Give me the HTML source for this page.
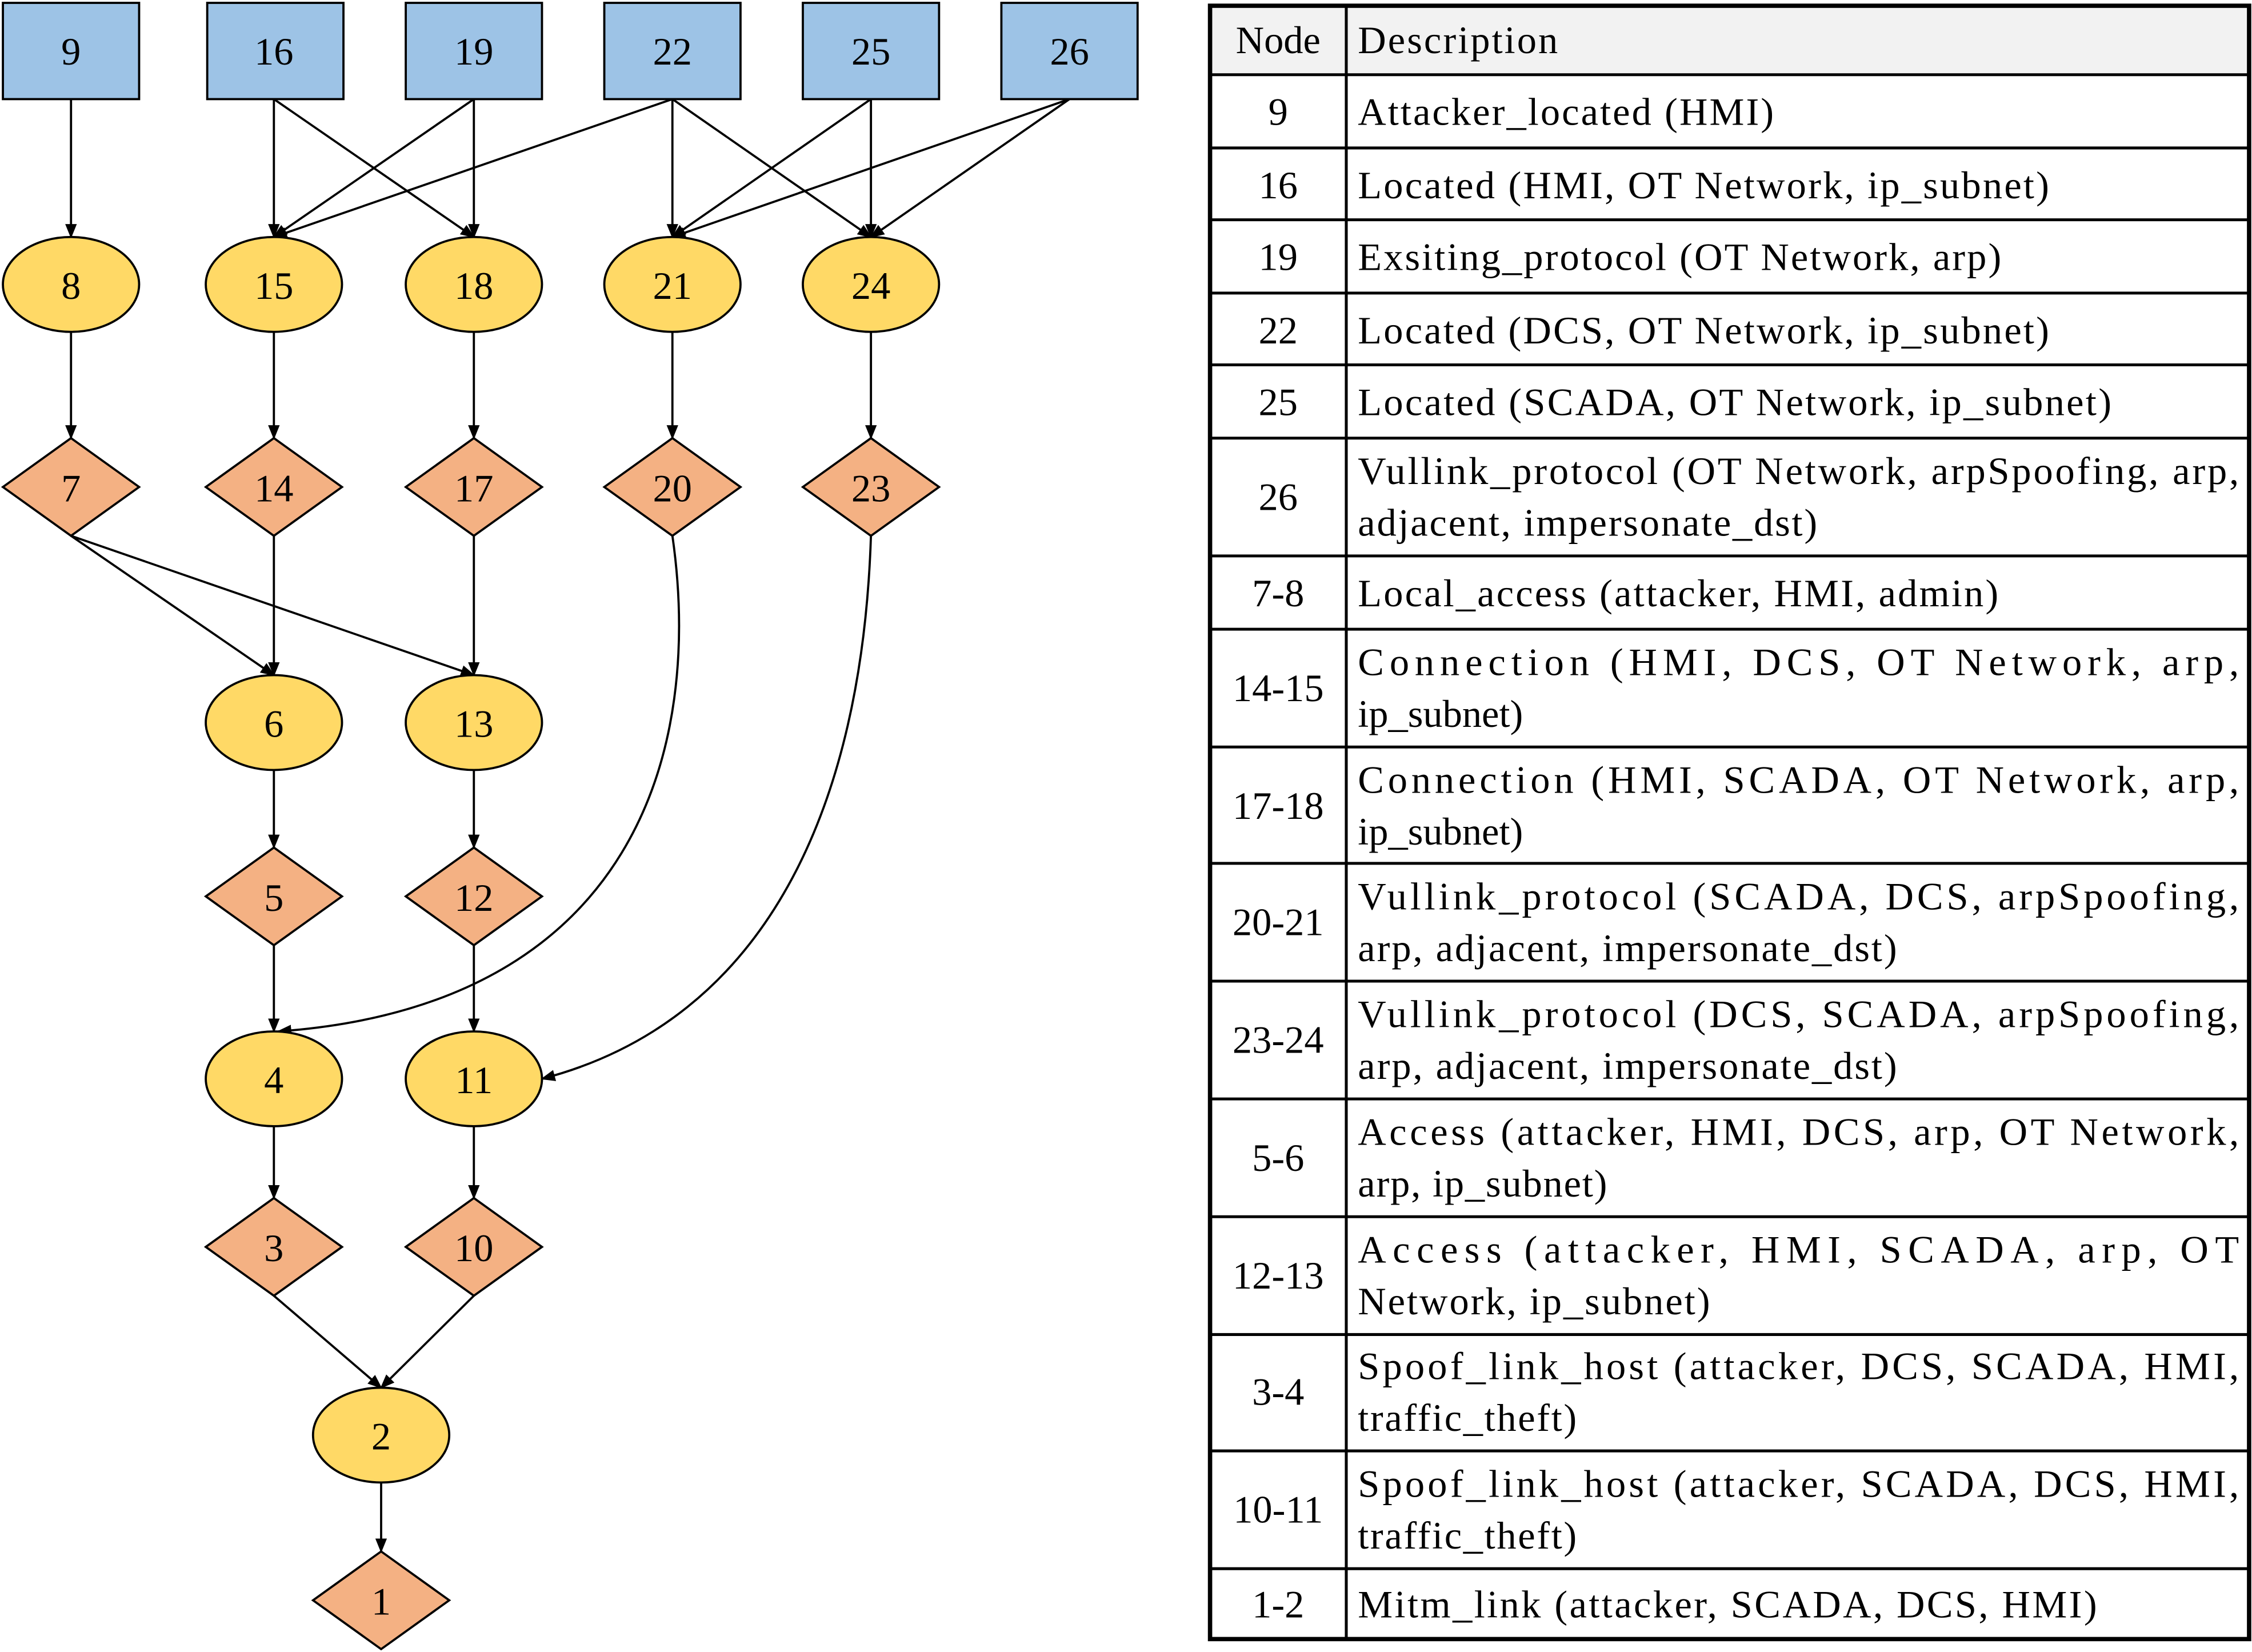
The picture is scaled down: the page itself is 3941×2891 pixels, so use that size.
<!DOCTYPE html>
<html><head><meta charset="utf-8"><style>html,body{margin:0;padding:0;background:#fff}svg{display:block}</style></head><body>
<svg width="3941" height="2891" viewBox="0 0 1554 1150" preserveAspectRatio="none" xmlns="http://www.w3.org/2000/svg" style="font-family:'Liberation Serif', serif">
<defs><marker id="a" markerWidth="10" markerHeight="8" refX="9" refY="4" orient="auto" markerUnits="userSpaceOnUse"><path d="M0,0 L10,4 L0,8 z" fill="#000"/></marker></defs>
<g stroke="#000" stroke-width="1.5" fill="none" marker-end="url(#a)">
<path d="M49,69 L49,165"/><path d="M189,69 L189,165"/><path d="M189,69 L327,165"/><path d="M327,69 L189,165"/><path d="M327,69 L327,165"/>
<path d="M464,69 L189,165"/><path d="M464,69 L464,165"/><path d="M464,69 L601,165"/><path d="M601,69 L464,165"/><path d="M601,69 L601,165"/>
<path d="M738,69 L464,165"/><path d="M738,69 L601,165"/>
<path d="M49,231 L49,305"/><path d="M189,231 L189,305"/><path d="M327,231 L327,305"/><path d="M464,231 L464,305"/><path d="M601,231 L601,305"/>
<path d="M49,373 L189,470"/><path d="M49,373 L327,470"/><path d="M189,373 L189,470"/><path d="M327,373 L327,470"/>
<path d="M464,373 C485,520 440,700 192,718"/><path d="M601,373 C595,560 530,710 374,751"/>
<path d="M189,536 L189,590"/><path d="M327,536 L327,590"/><path d="M189,658 L189,718"/><path d="M327,658 L327,718"/>
<path d="M189,784 L189,834"/><path d="M327,784 L327,834"/><path d="M189,902 L263,966"/><path d="M327,902 L263,966"/><path d="M263,1032 L263,1080"/>
</g>
<g stroke="#000" stroke-width="1.5" font-size="27" text-anchor="middle">
<g fill="#9dc3e6">
<rect x="2" y="2" width="94" height="67"/><rect x="143" y="2" width="94" height="67"/><rect x="280" y="2" width="94" height="67"/><rect x="417" y="2" width="94" height="67"/><rect x="554" y="2" width="94" height="67"/><rect x="691" y="2" width="94" height="67"/>
</g>
<g fill="#ffd966">
<ellipse cx="49" cy="198" rx="47" ry="33"/><ellipse cx="189" cy="198" rx="47" ry="33"/><ellipse cx="327" cy="198" rx="47" ry="33"/><ellipse cx="464" cy="198" rx="47" ry="33"/><ellipse cx="601" cy="198" rx="47" ry="33"/>
<ellipse cx="189" cy="503" rx="47" ry="33"/><ellipse cx="327" cy="503" rx="47" ry="33"/><ellipse cx="189" cy="751" rx="47" ry="33"/><ellipse cx="327" cy="751" rx="47" ry="33"/><ellipse cx="263" cy="999" rx="47" ry="33"/>
</g>
<g fill="#f4b183">
<path d="M2,339 L49,305 L96,339 L49,373 z"/><path d="M142,339 L189,305 L236,339 L189,373 z"/><path d="M280,339 L327,305 L374,339 L327,373 z"/><path d="M417,339 L464,305 L511,339 L464,373 z"/><path d="M554,339 L601,305 L648,339 L601,373 z"/>
<path d="M142,624 L189,590 L236,624 L189,658 z"/><path d="M280,624 L327,590 L374,624 L327,658 z"/>
<path d="M142,868 L189,834 L236,868 L189,902 z"/><path d="M280,868 L327,834 L374,868 L327,902 z"/>
<path d="M216,1114 L263,1080 L310,1114 L263,1148 z"/>
</g>
<g stroke="none" fill="#000">
<text x="49" y="45">9</text><text x="189" y="45">16</text><text x="327" y="45">19</text><text x="464" y="45">22</text><text x="601" y="45">25</text><text x="738" y="45">26</text>
<text x="49" y="208">8</text><text x="189" y="208">15</text><text x="327" y="208">18</text><text x="464" y="208">21</text><text x="601" y="208">24</text>
<text x="49" y="349">7</text><text x="189" y="349">14</text><text x="327" y="349">17</text><text x="464" y="349">20</text><text x="601" y="349">23</text>
<text x="189" y="513">6</text><text x="327" y="513">13</text><text x="189" y="634">5</text><text x="327" y="634">12</text>
<text x="189" y="761">4</text><text x="327" y="761">11</text><text x="189" y="878">3</text><text x="327" y="878">10</text>
<text x="263" y="1009">2</text><text x="263" y="1124">1</text>
</g>
</g>
<rect x="835" y="4" width="717" height="48" fill="#f2f2f2"/>
<g stroke="#000" stroke-width="2">
<rect x="835" y="4" width="717" height="1137" fill="none" stroke-width="3"/>
<line x1="929" y1="4" x2="929" y2="1141"/>
<path d="M835,52H1552M835,103H1552M835,153H1552M835,204H1552M835,254H1552M835,305H1552M835,387H1552M835,438H1552M835,520H1552M835,601H1552M835,683H1552M835,765H1552M835,847H1552M835,929H1552M835,1010H1552M835,1092H1552"/>
</g>
<g font-size="27" fill="#000">
<g text-anchor="middle">
<text x="882" y="37">Node</text><text x="882" y="87">9</text><text x="882" y="138">16</text><text x="882" y="188">19</text><text x="882" y="239">22</text><text x="882" y="289">25</text><text x="882" y="355">26</text><text x="882" y="422">7-8</text><text x="882" y="488">14-15</text><text x="882" y="570">17-18</text><text x="882" y="651">20-21</text><text x="882" y="733">23-24</text><text x="882" y="815">5-6</text><text x="882" y="897">12-13</text><text x="882" y="978">3-4</text><text x="882" y="1060">10-11</text><text x="882" y="1126">1-2</text>
</g>
<text x="937" y="37" textLength="138">Description</text>
<text x="937" y="87" textLength="287">Attacker_located (HMI)</text>
<text x="937" y="138" textLength="477">Located (HMI, OT Network, ip_subnet)</text>
<text x="937" y="188" textLength="444">Exsiting_protocol (OT Network, arp)</text>
<text x="937" y="239" textLength="477">Located (DCS, OT Network, ip_subnet)</text>
<text x="937" y="289" textLength="520">Located (SCADA, OT Network, ip_subnet)</text>
<text x="937" y="337" textLength="608" lengthAdjust="spacing">Vullink_protocol (OT Network, arpSpoofing, arp,</text>
<text x="937" y="373" textLength="317">adjacent, impersonate_dst)</text>
<text x="937" y="422" textLength="442">Local_access (attacker, HMI, admin)</text>
<text x="937" y="470" textLength="608" lengthAdjust="spacing">Connection (HMI, DCS, OT Network, arp,</text>
<text x="937" y="506">ip_subnet)</text>
<text x="937" y="552" textLength="608" lengthAdjust="spacing">Connection (HMI, SCADA, OT Network, arp,</text>
<text x="937" y="588">ip_subnet)</text>
<text x="937" y="633" textLength="608" lengthAdjust="spacing">Vullink_protocol (SCADA, DCS, arpSpoofing,</text>
<text x="937" y="669" textLength="372">arp, adjacent, impersonate_dst)</text>
<text x="937" y="715" textLength="608" lengthAdjust="spacing">Vullink_protocol (DCS, SCADA, arpSpoofing,</text>
<text x="937" y="751" textLength="372">arp, adjacent, impersonate_dst)</text>
<text x="937" y="797" textLength="608" lengthAdjust="spacing">Access (attacker, HMI, DCS, arp, OT Network,</text>
<text x="937" y="833" textLength="172">arp, ip_subnet)</text>
<text x="937" y="879" textLength="608" lengthAdjust="spacing">Access (attacker, HMI, SCADA, arp, OT</text>
<text x="937" y="915" textLength="243">Network, ip_subnet)</text>
<text x="937" y="960" textLength="608" lengthAdjust="spacing">Spoof_link_host (attacker, DCS, SCADA, HMI,</text>
<text x="937" y="996" textLength="151">traffic_theft)</text>
<text x="937" y="1042" textLength="608" lengthAdjust="spacing">Spoof_link_host (attacker, SCADA, DCS, HMI,</text>
<text x="937" y="1078" textLength="151">traffic_theft)</text>
<text x="937" y="1126" textLength="510">Mitm_link (attacker, SCADA, DCS, HMI)</text>
</g>
</svg>
</body></html>
